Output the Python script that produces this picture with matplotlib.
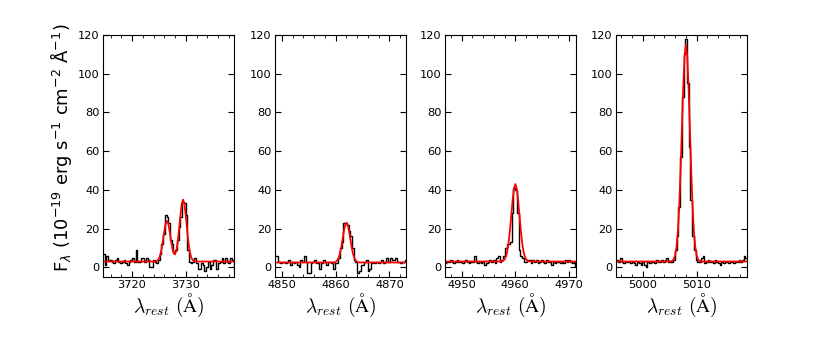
import numpy as np
import matplotlib.pyplot as plt
from matplotlib.ticker import MultipleLocator

# pixel size of the rest-frame spectra (Angstrom)
pix = 0.32

# [OII] 3726,3729
w1_start = 3714.75
flux1 = [7, 1, 6, 4, 4, 3, 2, 4, 5, 3, 2, 3, 4, 2, 1, 3, 4, 5, 3, 9, 3, 3, 5, 5, 3, 5, 4, 0, 0, 4, 3, 2, 4,
         7, 12, 17, 27, 26, 23, 14, 12, 8, 9, 14, 21, 26, 34, 33, 27, 9, 3, 2,
         3, 5, 2, -1, -1, 2, 1, -2, 0, 3, -1, 1, 4, 4, -1, 2, 3, 5, 2, 5, 3, 2, 5, 4, -1]
fit1_w = [3714.0, 3724.0, 3724.25, 3724.5, 3724.75, 3725.0, 3725.25, 3725.5, 3725.75, 3726.0, 3726.25,
          3726.5, 3726.75, 3727.0, 3727.25, 3727.5, 3727.75, 3728.0, 3728.25, 3728.5, 3728.75, 3729.0,
          3729.25, 3729.5, 3729.75, 3730.0, 3730.25, 3730.5, 3730.75, 3731.0, 3731.25, 3731.5, 3731.75,
          3732.0, 3740.0]
fit1_f = [3.0, 3.0, 3.05, 3.2, 3.6, 4.5, 6.3, 9.4, 13.8, 18.6, 22.5,
          24.0, 22.5, 18.6, 13.9, 9.7, 7.2, 6.7, 8.6, 13.0, 19.5, 26.8,
          32.7, 35.0, 32.7, 26.8, 19.4, 12.8, 8.0, 5.2, 3.9, 3.3, 3.1,
          3.0, 3.0]

# H beta
w2_start = 4848.8
flux2 = [6, 6, 3, 2, 3, 3, 2, 3, 4, 1, 3, 2, 3, 1, 0, 4, 3, 6, 3, -3, -3, 2, 3, 4, 2, 3, -1, 2, 4, 3, 1, 3, 3, 2, -1,
         2, 2, 5, 10, 13, 23, 23, 22, 19, 16, 10, 4, 3, -3, -2,
         1, 1, 3, 4, -2, -1, 2, 3, 2, 3, 2, 3, 4, 2, 3, 5, 3, 5, 4, 4, 5, 3, 3, 2, 3, 3, 4]
fit2_w = [4848.0, 4859.5, 4859.75, 4860.0, 4860.25, 4860.5, 4860.75, 4861.0, 4861.25, 4861.5, 4861.75,
          4862.0, 4862.25, 4862.5, 4862.75, 4863.0, 4863.25, 4863.5, 4863.75, 4864.0, 4864.25, 4864.5,
          4874.0]
fit2_f = [2.5, 2.53, 2.62, 2.85, 3.4, 4.6, 6.7, 9.9, 14.0, 18.4, 21.7,
          23.0, 21.7, 18.4, 14.0, 9.9, 6.7, 4.6, 3.4, 2.85, 2.62, 2.53,
          2.5]

# [OIII] 4959
w3_start = 4947.0
flux3 = [2, 3, 3, 4, 3, 2, 3, 4, 3, 3, 2, 3, 4, 3, 2, 3, 3, 6, 3, 2, 3, 2, 3, 1, 2, 3, 4, 3, 4, 2, 5, 6, 3, 4,
         6, 10, 12, 12, 13, 28, 41, 40, 28, 9, 6, 5, 3,
         3, 4, 4, 2, 4, 3, 4, 2, 3, 4, 3, 2, 4, 3, 3, 1, 3, 2, 3, 3, 2, 3, 2, 4, 3, 4, 3, 2, 3, 0]
fit3_w = [4946.0, 4957.25, 4957.5, 4957.75, 4958.0, 4958.25, 4958.5, 4958.75, 4959.0, 4959.25, 4959.5,
          4959.75, 4960.0, 4960.25, 4960.5, 4960.75, 4961.0, 4961.25, 4961.5, 4961.75, 4962.0, 4962.25,
          4962.5, 4962.75, 4972.0]
fit3_f = [3.0, 3.05, 3.16, 3.44, 4.14, 5.63, 8.4, 13.0, 19.4, 27.3, 35.0,
          40.8, 43.0, 40.8, 35.0, 27.3, 19.4, 13.0, 8.4, 5.63, 4.14, 3.44,
          3.16, 3.05, 3.0]

# [OIII] 5007
w4_start = 4995.25
flux4 = [4, 3, 5, 3, 2, 3, 3, 3, 2, 3, 2, 1, 3, 2, 1, 3, 1, 0, 3, 2, 3, 3, 2, 4, 3, 3, 4, 3, 4, 5, 3, 3, 3, 4,
         9, 16, 31, 57, 88, 110, 118, 95, 62, 35, 16, 9, 4,
         3, 3, 5, 6, 2, 3, 4, 3, 3, 2, 4, 3, 2, 1, 3, 2, 3, 3, 2, 3, 3, 2, 3, 3, 4, 3, 4, 6, 5]
fit4_w = [4994.0, 5005.0, 5005.25, 5005.5, 5005.75, 5006.0, 5006.25, 5006.5, 5006.75, 5007.0, 5007.25,
          5007.5, 5007.75, 5008.0, 5008.25, 5008.5, 5008.75, 5009.0, 5009.25, 5009.5, 5009.75, 5010.0,
          5010.25, 5010.5, 5010.75, 5011.0, 5020.0]
fit4_f = [3.0, 3.04, 3.13, 3.44, 4.24, 6.2, 10.4, 18.1, 30.9, 49.0, 71.0,
          92.7, 109.0, 115.0, 109.0, 92.7, 71.0, 49.0, 30.9, 18.1, 10.4, 6.2,
          4.24, 3.44, 3.13, 3.04, 3.0]

xlims = [(3714.6, 3739.0), (4848.7, 4873.1), (4946.9, 4971.3), (4995.0, 5019.4)]
lefts = [0.1241, 0.3313, 0.5361, 0.7422]

panels = [(w1_start, flux1, fit1_w, fit1_f),
          (w2_start, flux2, fit2_w, fit2_f),
          (w3_start, flux3, fit3_w, fit3_f),
          (w4_start, flux4, fit4_w, fit4_f)]

fig = plt.figure(figsize=(8.3, 3.46), dpi=100)

for i, (w0, flux, fw, ff) in enumerate(panels):
    ax = fig.add_axes([lefts[i], 0.1994, 0.158, 0.6994])
    wave = w0 + pix * np.arange(len(flux))
    ax.step(wave, flux, where='mid', color='k', lw=1.0)
    ax.plot(fw, ff, color='#ff0000', lw=1.3)

    ax.set_xlim(xlims[i])
    ax.set_ylim(-5, 120)
    ax.xaxis.set_major_locator(MultipleLocator(10))
    ax.xaxis.set_minor_locator(MultipleLocator(2))
    ax.yaxis.set_major_locator(MultipleLocator(20))
    ax.tick_params(which='both', direction='in', top=True, right=True, labelsize=8.2, pad=2.5)
    ax.tick_params(which='major', length=4)
    ax.tick_params(which='minor', length=2)
    ax.set_xlabel(r'$\lambda_{rest}\ (\mathrm{Å})$', fontsize=14, labelpad=1, math_fontfamily='cm')

fig.text(0.0735, 0.572, r'F$_\lambda$ (10$^{-19}$ erg s$^{-1}$ cm$^{-2}$ Å$^{-1}$)',
         rotation=90, ha='center', va='center', fontsize=13)

fig.savefig('out.png', dpi=100)
